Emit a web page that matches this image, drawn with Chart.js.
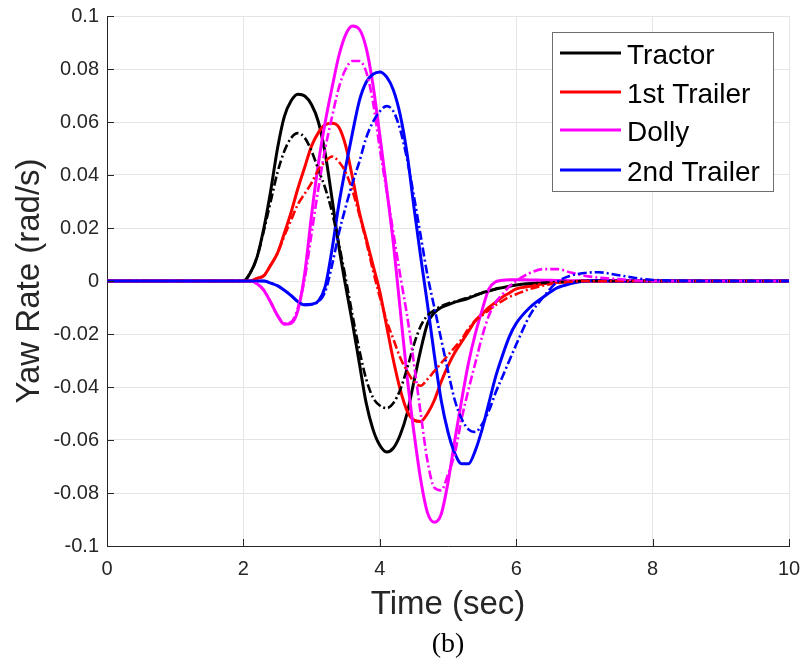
<!DOCTYPE html>
<html>
<head>
<meta charset="utf-8">
<script src="https://cdn.jsdelivr.net/npm/chart.js@4"></script>
<style>
  body { margin: 0; background: #fff; }
  #wrap { width: 806px; height: 667px; }
</style>
</head>
<body>
<div id="wrap"><canvas id="yaw" width="806" height="667"></canvas></div>
<script>
// time grid (sec), dense where the curves move
const timeSec = [0,
  2.0, 2.1, 2.2, 2.3, 2.4, 2.5, 2.6, 2.7, 2.8, 2.9,
  3.0, 3.1, 3.2, 3.3, 3.4, 3.5, 3.6, 3.7, 3.8, 3.9,
  4.0, 4.1, 4.2, 4.3, 4.4, 4.5, 4.6, 4.7, 4.8, 4.9,
  5.0, 5.1, 5.2, 5.3, 5.4, 5.5, 5.6, 5.7, 5.8, 5.9, 6.0,
  6.2, 6.4, 6.6, 6.8, 7.0, 7.2, 7.5, 8, 9, 10];

// yaw rate (rad/s), solid = first case, dashdot = second case
const tractorSolid = [0,
  0, 0.003, 0.009, 0.020, 0.034, 0.050, 0.062, 0.068, 0.0705, 0.0698,
  0.0665, 0.060, 0.048, 0.031, 0.013, -0.002, -0.016, -0.031, -0.046, -0.056,
  -0.062, -0.0645, -0.063, -0.058, -0.050, -0.038, -0.026, -0.016, -0.012, -0.010,
  -0.009, -0.008, -0.0073, -0.0065, -0.0055, -0.0045, -0.0038, -0.003, -0.0025, -0.002, -0.0015,
  -0.001, -0.0007, -0.0004, -0.0002, 0, 0, 0, 0, 0, 0];
const tractorDash = [0,
  0, 0.003, 0.009, 0.019, 0.030, 0.041, 0.049, 0.054, 0.0558, 0.054,
  0.049, 0.042, 0.035, 0.026, 0.014, 0.001, -0.013, -0.026, -0.037, -0.044,
  -0.047, -0.048, -0.046, -0.041, -0.033, -0.024, -0.017, -0.013, -0.011, -0.0095,
  -0.0085, -0.0078, -0.007, -0.0062, -0.0053, -0.0045, -0.0038, -0.003, -0.0025, -0.002, -0.0015,
  -0.001, -0.0007, -0.0004, -0.0002, 0, 0, 0, 0, 0, 0];
const trailer1Solid = [0,
  0, 0, 0.001, 0.002, 0.006, 0.0105, 0.018, 0.026, 0.035, 0.043,
  0.051, 0.056, 0.059, 0.0595, 0.058, 0.051, 0.039, 0.026, 0.016, 0.006,
  -0.004, -0.017, -0.030, -0.041, -0.049, -0.0525, -0.053, -0.050, -0.045, -0.038,
  -0.032, -0.027, -0.023, -0.019, -0.015, -0.0125, -0.010, -0.008, -0.006, -0.0045, -0.003,
  -0.002, -0.001, -0.0005, -0.0002, 0, 0, 0, 0, 0, 0];
const trailer1Dash = [0,
  0, 0, 0.001, 0.002, 0.006, 0.0105, 0.017, 0.023, 0.029, 0.033,
  0.037, 0.042, 0.045, 0.047, 0.045, 0.041, 0.034, 0.025, 0.015, 0.004,
  -0.006, -0.015, -0.022, -0.029, -0.034, -0.038, -0.0395, -0.037, -0.034, -0.031,
  -0.028, -0.025, -0.022, -0.018, -0.015, -0.013, -0.011, -0.009, -0.0075, -0.006, -0.005,
  -0.003, -0.0017, -0.0008, -0.0003, 0, 0, 0, 0, 0, 0];
const dollySolid = [0,
  0, 0, -0.001, -0.0035, -0.008, -0.013, -0.0163, -0.016, -0.011, 0.003,
  0.025, 0.0445, 0.060, 0.073, 0.085, 0.093, 0.0962, 0.095, 0.088, 0.074,
  0.055, 0.035, 0.014, -0.011, -0.036, -0.057, -0.075, -0.0875, -0.091, -0.088,
  -0.076, -0.060, -0.045, -0.031, -0.020, -0.011, -0.003, -0.0003, 0.0003, 0.0005, 0.0005,
  0.0004, 0.0003, 0.0002, 0.0001, 0, 0, 0, 0, 0, 0];
const dollyDash = [0,
  0, 0, -0.001, -0.0035, -0.008, -0.013, -0.016, -0.0155, -0.010, 0.001,
  0.018, 0.035, 0.050, 0.062, 0.073, 0.080, 0.083, 0.083, 0.079, 0.0675,
  0.050, 0.034, 0.018, 0.002, -0.013, -0.031, -0.050, -0.068, -0.078, -0.079,
  -0.073, -0.065, -0.052, -0.041, -0.031, -0.021, -0.013, -0.008, -0.005, -0.002, 0,
  0.003, 0.0045, 0.0045, 0.0032, 0.002, 0.0013, 0.0007, 0, 0, 0];
const trailer2Solid = [0,
  0, 0, 0, 0, -0.0008, -0.0018, -0.0035, -0.0055, -0.0078, -0.009,
  -0.0088, -0.0075, -0.002, 0.012, 0.029, 0.043, 0.056, 0.068, 0.075, 0.078,
  0.0789, 0.077, 0.072, 0.0626, 0.048, 0.028, 0.009, -0.009, -0.028, -0.045,
  -0.057, -0.065, -0.069, -0.069, -0.064, -0.056, -0.046, -0.036, -0.028, -0.021, -0.016,
  -0.010, -0.006, -0.0026, -0.001, 0, 0.0002, 0, 0, 0, 0];
const trailer2Dash = [0,
  0, 0, 0, 0, -0.0008, -0.0018, -0.0035, -0.0055, -0.0078, -0.009,
  -0.0088, -0.0078, -0.004, 0.006, 0.018, 0.028, 0.037, 0.045, 0.054, 0.060,
  0.064, 0.066, 0.064, 0.057, 0.046, 0.032, 0.017, 0.002, -0.010, -0.022,
  -0.034, -0.045, -0.052, -0.056, -0.057, -0.054, -0.049, -0.042, -0.036, -0.030, -0.024,
  -0.013, -0.006, -0.0004, 0.002, 0.003, 0.0033, 0.0022, 0.0004, 0, 0];

const xTicks = [0, 2, 4, 6, 8, 10];
const yTicks = [-0.1, -0.08, -0.06, -0.04, -0.02, 0, 0.02, 0.04, 0.06, 0.08, 0.1];

const seriesNames = ['Tractor', '1st Trailer', 'Dolly', '2nd Trailer'];
const seriesColors = ['#000000', '#ff0000', '#ff00ff', '#0000ff'];
const solidSets = [tractorSolid, trailer1Solid, dollySolid, trailer2Solid];
const dashSets = [tractorDash, trailer1Dash, dollyDash, trailer2Dash];

function toPoints(values) {
  return values.map((v, i) => ({ x: timeSec[i], y: v }));
}

// solids drawn first, dash-dot on top
let datasets = [];
let drawIdx = 0;
solidSets.forEach((vals, i) => {
  datasets.push({
    label: seriesNames[i], data: toPoints(vals), borderColor: seriesColors[i],
    borderWidth: 3, inLegend: true, order: 20 - drawIdx++
  });
});
dashSets.forEach((vals, i) => {
  datasets.push({
    label: seriesNames[i] + ' (b)', data: toPoints(vals), borderColor: seriesColors[i],
    borderWidth: 2.6, borderDash: [9, 3, 2, 3], inLegend: false, order: 20 - drawIdx++
  });
});

const axisColor = '#262626';

// MATLAB-ish extras: inward ticks, axis labels, caption, legend box
const figureExtras = {
  id: 'figureExtras',
  afterDraw(chart) {
    const ctx = chart.ctx;
    const area = chart.chartArea;
    const xs = chart.scales.x, ys = chart.scales.y;
    ctx.save();

    ctx.strokeStyle = axisColor;
    ctx.lineWidth = 1;
    ctx.beginPath();
    xTicks.forEach(t => {
      const px = Math.round(xs.getPixelForValue(t)) + 0.5;
      ctx.moveTo(px, area.bottom);
      ctx.lineTo(px, area.bottom - 7);
    });
    yTicks.forEach(t => {
      const py = Math.round(ys.getPixelForValue(t)) + 0.5;
      ctx.moveTo(area.left, py);
      ctx.lineTo(area.left + 7, py);
    });
    ctx.stroke();

    ctx.fillStyle = axisColor;
    ctx.font = '33px "Liberation Sans", Arial, sans-serif';
    ctx.textAlign = 'center';
    ctx.textBaseline = 'middle';
    ctx.fillText('Time (sec)', (area.left + area.right) / 2, 605);
    ctx.save();
    ctx.translate(30, (area.top + area.bottom) / 2);
    ctx.rotate(-Math.PI / 2);
    ctx.fillText('Yaw Rate (rad/s)', 0, 0);
    ctx.restore();

    ctx.fillStyle = '#000';
    ctx.font = '28px "Liberation Serif", "Times New Roman", serif';
    ctx.fillText('(b)', (area.left + area.right) / 2, 645);

    // legend
    const boxL = 552.5, boxT = 32.5, boxW = 221, boxH = 159;
    ctx.fillStyle = '#fff';
    ctx.fillRect(boxL, boxT, boxW, boxH);
    ctx.strokeStyle = '#6e6e6e';
    ctx.lineWidth = 1;
    ctx.strokeRect(boxL, boxT, boxW, boxH);
    const rows = [53, 92, 130, 170];
    const shown = chart.data.datasets.filter(d => d.inLegend);
    ctx.font = '28px "Liberation Sans", Arial, sans-serif';
    ctx.textAlign = 'left';
    ctx.textBaseline = 'alphabetic';
    shown.forEach((d, i) => {
      ctx.strokeStyle = d.borderColor;
      ctx.lineWidth = 3;
      ctx.beginPath();
      ctx.moveTo(560, rows[i]);
      ctx.lineTo(621, rows[i]);
      ctx.stroke();
      ctx.fillStyle = '#000';
      ctx.fillText(d.label, 627, rows[i] + 11);
    });
    ctx.restore();
  }
};

const tickFont = { family: '"Liberation Sans", Arial, sans-serif', size: 20 };

new Chart(document.getElementById('yaw'), {
  type: 'line',
  data: { datasets: datasets },
  options: {
    responsive: false,
    animation: false,
    elements: {
      point: { radius: 0 },
      line: { cubicInterpolationMode: 'monotone', fill: false }
    },
    layout: { padding: { top: 16, right: 17, left: 0, bottom: 0 } },
    plugins: {
      legend: { display: false },
      tooltip: { enabled: false }
    },
    scales: {
      x: {
        type: 'linear',
        min: 0, max: 10,
        afterFit: s => { s.height = 121; s.paddingLeft = 0; s.paddingRight = 0; },
        afterBuildTicks: s => { s.ticks = xTicks.map(v => ({ value: v })); },
        ticks: { font: tickFont, color: axisColor, padding: 11, maxRotation: 0 },
        grid: { color: '#e4e4e4', drawTicks: false },
        border: { color: axisColor, width: 1 }
      },
      y: {
        type: 'linear',
        min: -0.1, max: 0.1,
        afterFit: s => { s.width = 107; s.paddingTop = 0; s.paddingBottom = 0; },
        afterBuildTicks: s => { s.ticks = yTicks.map(v => ({ value: v })); },
        ticks: {
          font: tickFont, color: axisColor, padding: 8,
          callback: v => String(+v.toFixed(2))
        },
        grid: { color: '#e4e4e4', drawTicks: false },
        border: { color: axisColor, width: 1 }
      }
    }
  },
  plugins: [figureExtras]
});
</script>
</body>
</html>
